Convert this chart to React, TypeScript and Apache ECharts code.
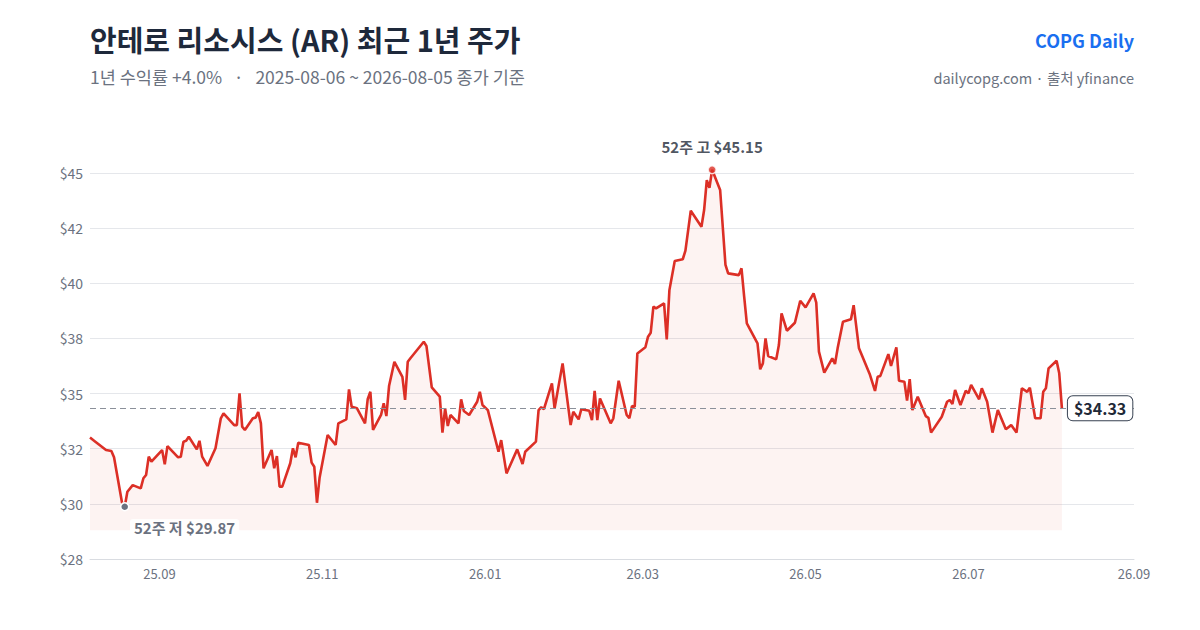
import { useEffect, useRef } from 'react'
import * as echarts from 'echarts'

// 일별 종가
const dates = [
  '2025-08-06', '2025-08-08', '2025-08-12', '2025-08-14', '2025-08-15', '2025-08-18', '2025-08-19', '2025-08-20',
  '2025-08-22', '2025-08-25', '2025-08-26', '2025-08-27', '2025-08-28', '2025-08-29',
  '2025-09-02', '2025-09-03', '2025-09-04', '2025-09-08', '2025-09-09', '2025-09-10', '2025-09-11', '2025-09-12',
  '2025-09-15', '2025-09-16', '2025-09-17', '2025-09-19', '2025-09-22', '2025-09-24', '2025-09-25', '2025-09-29',
  '2025-09-30',
  '2025-10-01', '2025-10-02', '2025-10-03', '2025-10-06', '2025-10-07', '2025-10-08', '2025-10-09', '2025-10-10',
  '2025-10-13', '2025-10-14', '2025-10-15', '2025-10-16', '2025-10-17', '2025-10-20', '2025-10-21', '2025-10-22',
  '2025-10-23', '2025-10-27', '2025-10-28', '2025-10-29', '2025-10-30', '2025-10-31',
  '2025-11-03', '2025-11-06', '2025-11-07', '2025-11-10', '2025-11-11', '2025-11-12', '2025-11-14', '2025-11-17',
  '2025-11-18', '2025-11-19', '2025-11-20', '2025-11-23', '2025-11-24', '2025-11-25', '2025-11-26', '2025-11-28',
  '2025-12-01', '2025-12-02', '2025-12-03', '2025-12-04', '2025-12-09', '2025-12-10', '2025-12-12', '2025-12-15',
  '2025-12-16', '2025-12-17', '2025-12-18', '2025-12-19', '2025-12-22', '2025-12-23', '2025-12-24', '2025-12-26',
  '2025-12-29', '2025-12-30', '2025-12-31',
  '2026-01-02', '2026-01-06', '2026-01-07', '2026-01-09', '2026-01-13', '2026-01-15', '2026-01-16', '2026-01-20',
  '2026-01-21', '2026-01-22', '2026-01-23', '2026-01-26', '2026-01-27', '2026-01-30',
  '2026-02-02', '2026-02-03', '2026-02-05', '2026-02-06', '2026-02-09', '2026-02-10', '2026-02-11', '2026-02-12',
  '2026-02-13', '2026-02-17', '2026-02-18', '2026-02-20', '2026-02-23', '2026-02-24', '2026-02-25', '2026-02-26',
  '2026-02-27',
  '2026-03-02', '2026-03-03', '2026-03-04', '2026-03-05', '2026-03-06', '2026-03-09', '2026-03-10', '2026-03-11',
  '2026-03-13', '2026-03-16', '2026-03-17', '2026-03-19', '2026-03-23', '2026-03-24', '2026-03-25', '2026-03-26',
  '2026-03-27', '2026-03-30',
  '2026-04-01', '2026-04-02', '2026-04-06', '2026-04-07', '2026-04-08', '2026-04-09', '2026-04-13', '2026-04-14',
  '2026-04-15', '2026-04-16', '2026-04-17', '2026-04-20', '2026-04-21', '2026-04-22', '2026-04-24', '2026-04-27',
  '2026-04-29',
  '2026-05-01', '2026-05-04', '2026-05-05', '2026-05-06', '2026-05-08', '2026-05-11', '2026-05-12', '2026-05-13',
  '2026-05-15', '2026-05-18', '2026-05-19', '2026-05-21', '2026-05-25', '2026-05-27', '2026-05-28', '2026-05-29',
  '2026-06-01', '2026-06-02', '2026-06-04', '2026-06-05', '2026-06-07', '2026-06-08', '2026-06-09', '2026-06-10',
  '2026-06-12', '2026-06-15', '2026-06-16', '2026-06-17', '2026-06-21', '2026-06-23', '2026-06-24', '2026-06-25',
  '2026-06-26', '2026-06-28', '2026-06-30',
  '2026-07-01', '2026-07-02', '2026-07-05', '2026-07-06', '2026-07-08', '2026-07-10', '2026-07-12', '2026-07-15',
  '2026-07-17', '2026-07-19', '2026-07-21', '2026-07-23', '2026-07-24', '2026-07-26', '2026-07-28', '2026-07-29',
  '2026-07-30', '2026-07-31',
  '2026-08-03', '2026-08-04', '2026-08-05',
]

const prices = [
  33.01, 32.82, 32.44, 32.4, 32.11, 30.05, 29.87, 30.55,
  30.85, 30.7, 31.16, 31.31, 32.14, 31.91,
  32.44, 31.79, 32.62, 32.11, 32.14, 32.82, 32.86, 33.04,
  32.47, 32.86, 32.14, 31.72, 32.52, 33.88, 34.1, 33.57,
  33.57,
  35.01, 33.5, 33.35, 33.88, 33.91, 34.16, 33.65, 31.61,
  32.44, 31.61, 32.17, 30.78, 30.78, 31.84, 32.52, 32.11,
  32.77, 32.67, 31.87, 31.68, 30.05, 31.2,
  33.12, 32.67, 33.65, 33.83, 35.19, 34.4, 34.33, 33.65,
  34.74, 35.08, 33.35, 34.03, 34.56, 33.98, 35.34, 36.44,
  35.76, 34.71, 36.44, 36.6, 37.35, 37.16, 35.28, 34.86,
  33.23, 34.33, 33.53, 34.03, 33.65, 34.74, 34.21, 34.03,
  34.63, 35.08, 34.48,
  34.25, 32.36, 32.89, 31.38, 32.47, 31.81, 32.36, 32.82,
  34.25, 34.38, 34.29, 35.46, 34.33, 36.37,
  33.57, 34.18, 33.83, 34.29, 34.22, 33.8, 35.12, 33.8,
  34.78, 33.65, 33.88, 35.58, 34.03, 33.88, 34.44, 34.4,
  36.82,
  37.1, 37.58, 37.76, 38.94, 38.86, 39.09, 37.46, 39.69,
  41.01, 41.09, 41.48, 43.29, 42.56, 43.32, 44.68, 44.33,
  45.15, 44.23,
  40.83, 40.45, 40.37, 40.68, 39.39, 38.18, 37.28, 36.1,
  36.37, 37.5, 36.7, 36.55, 37.2, 38.64, 37.85, 38.21,
  39.21,
  38.91, 39.54, 39.12, 36.9, 35.95, 36.6, 36.34, 37.05,
  38.26, 38.37, 39.01, 37.05, 35.89, 35.12, 35.76, 35.8,
  36.79, 36.25, 37.1, 35.58, 35.54, 34.68, 35.65, 34.25,
  34.86, 33.98, 33.9, 33.23, 33.95, 34.63, 34.71, 34.53,
  35.16, 34.48, 35.13,
  35.01, 35.39, 34.74, 35.24, 34.63, 33.23, 34.25, 33.38,
  33.57, 33.23, 35.24, 35.08, 35.27, 33.88, 33.88, 35.08,
  35.24, 36.14,
  36.49, 35.92, 34.33,
]

const xMin = '2025-08-06'
const xMax = '2026-09-01'
const xTickDates = ['2025-09-01', '2025-11-01', '2026-01-01', '2026-03-01', '2026-05-01', '2026-07-01', '2026-09-01']
const xTickLabels = ['25.09', '25.11', '26.01', '26.03', '26.05', '26.07', '26.09']

const yMin = 27.5
const yMax = 45
const yStep = 2.5
const yTickLabels = ['$28', '$30', '$32', '$35', '$38', '$40', '$42', '$45']

// 영역 채움의 바닥
const areaBase = 28.8

const FONT = "'Noto Sans CJK KR', 'Noto Sans', sans-serif"
const RED = '#dc2f26'

function toTs(d: string) {
  const [y, m, day] = d.split('-').map(Number)
  return new Date(y, m - 1, day).getTime()
}

export default function App() {
  const chartRef = useRef<HTMLDivElement | null>(null)

  useEffect(() => {
    if (!chartRef.current) {
      return
    }

    const chart = echarts.init(chartRef.current, null, { renderer: 'svg' })

    const xTickTs = xTickDates.map(toTs)
    const seriesData = dates.map((d, i) => [toTs(d), prices[i]])
    const maxPrice = Math.max(...prices)
    const minPrice = Math.min(...prices)
    const maxIdx = prices.indexOf(maxPrice)
    const minIdx = prices.indexOf(minPrice)
    const lastIdx = prices.length - 1
    const lastPrice = prices[lastIdx]

    chart.setOption({
      animation: false,
      textStyle: { fontFamily: FONT },
      grid: { left: 90, right: 66, top: 173, bottom: 71 },
      graphic: [
        {
          type: 'text',
          style: {
            x: 90,
            y: 39,
            text: '안테로 리소시스 (AR) 최근 1년 주가',
            font: `bold 29px ${FONT}`,
            fill: '#1e293b',
            textVerticalAlign: 'middle',
          },
        },
        {
          type: 'text',
          style: {
            x: 90,
            y: 76,
            text: '1년 수익률 +4.0%   ·   2025-08-06 ~ 2026-08-05 종가 기준',
            font: `17.5px ${FONT}`,
            fill: '#6b7280',
            textVerticalAlign: 'middle',
          },
        },
        {
          type: 'text',
          style: {
            x: 1134,
            y: 40,
            text: 'COPG Daily',
            font: `bold 18px ${FONT}`,
            fill: '#1a6ff0',
            textAlign: 'right',
            textVerticalAlign: 'middle',
          },
        },
        {
          type: 'text',
          style: {
            x: 1134,
            y: 77,
            text: 'dailycopg.com · 출처 yfinance',
            font: `14.5px ${FONT}`,
            fill: '#6b7280',
            textAlign: 'right',
            textVerticalAlign: 'middle',
          },
        },
      ],
      xAxis: {
        type: 'value',
        min: toTs(xMin),
        max: toTs(xMax),
        axisLine: { lineStyle: { color: '#d9dce1' } },
        axisTick: { show: false },
        splitLine: { show: false },
        axisLabel: {
          customValues: xTickTs,
          color: '#6b7280',
          fontSize: 13,
          margin: 8,
          formatter: (v: number) => {
            const i = xTickTs.findIndex((t) => Math.abs(t - v) < 86400000)
            return i >= 0 ? xTickLabels[i] : ''
          },
        },
      },
      yAxis: {
        type: 'value',
        min: yMin,
        max: yMax,
        interval: yStep,
        axisLine: { show: false },
        axisTick: { show: false },
        splitLine: { lineStyle: { color: '#e5e7eb' } },
        axisLabel: {
          color: '#6b7280',
          fontSize: 14,
          margin: 7,
          formatter: (v: number) => yTickLabels[Math.round((v - yMin) / yStep)] ?? '',
        },
      },
      series: [
        {
          type: 'line',
          data: seriesData,
          showSymbol: false,
          clip: false,
          lineStyle: { color: RED, width: 2.6 },
          areaStyle: { color: 'rgba(220,47,38,0.085)', origin: areaBase },
          markLine: {
            silent: true,
            symbol: 'none',
            label: { show: false },
            lineStyle: { color: '#8b909a', type: [6, 4], width: 1.2 },
            data: [{ yAxis: lastPrice }],
          },
          markPoint: {
            silent: true,
            data: [
              {
                coord: seriesData[minIdx],
                symbol: 'circle',
                symbolSize: 8,
                itemStyle: { color: '#6b7280', borderColor: '#ffffff', borderWidth: 1.5 },
                label: {
                  show: true,
                  position: [10, 17],
                  align: 'left',
                  verticalAlign: 'top',
                  formatter: `52주 저 $${minPrice.toFixed(2)}`,
                  color: '#6b7280',
                  fontSize: 15,
                  fontWeight: 'bold',
                  backgroundColor: 'rgba(255,255,255,0.85)',
                  borderRadius: 3,
                  padding: [1, 4],
                },
              },
              {
                coord: seriesData[lastIdx],
                symbol: 'circle',
                symbolSize: 0,
                label: {
                  show: true,
                  position: 'right',
                  distance: 6,
                  formatter: `$${lastPrice.toFixed(2)}`,
                  color: '#1f2937',
                  fontSize: 16,
                  fontWeight: 'bold',
                  backgroundColor: '#ffffff',
                  borderColor: '#374151',
                  borderWidth: 1,
                  borderRadius: 5,
                  padding: [4, 6],
                },
              },
            ],
          },
        },
        {
          // 52주 고점 (축 최댓값 위라서 markPoint 대신 scatter)
          type: 'scatter',
          data: [seriesData[maxIdx]],
          clip: false,
          silent: true,
          symbol: 'circle',
          symbolSize: 8,
          itemStyle: { color: RED, borderColor: '#ffffff', borderWidth: 1.5 },
          label: {
            show: true,
            position: 'top',
            distance: 11,
            formatter: `52주 고 $${maxPrice.toFixed(2)}`,
            color: '#1f2937',
            fontSize: 15,
            fontWeight: 'bold',
          },
          z: 5,
        },
      ],
    })

    return () => {
      chart.dispose()
    }
  }, [])

  return (
    <div
      ref={chartRef}
      style={{ position: 'fixed', left: 0, top: 0, width: 1200, height: 630, background: '#ffffff' }}
    />
  )
}
